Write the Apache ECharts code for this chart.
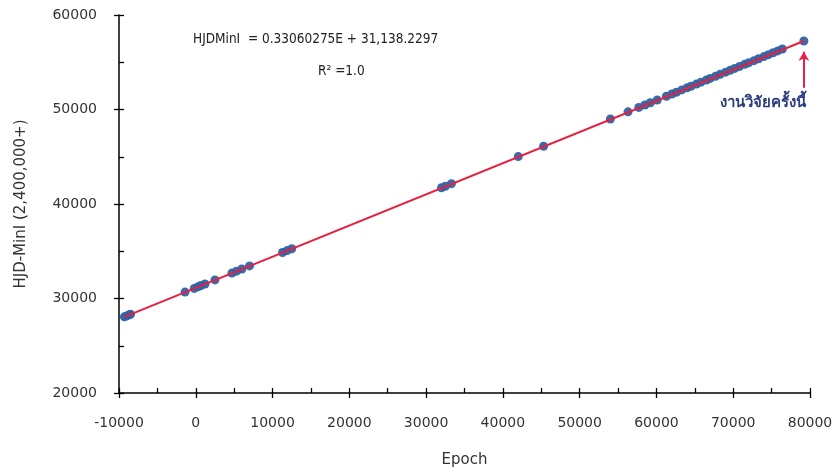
<!DOCTYPE html>
<html>
<head>
<meta charset="utf-8">
<script src="https://cdn.jsdelivr.net/npm/echarts@6/dist/echarts.min.js"></script>
<style>html,body{margin:0;padding:0;background:#fff}#c{width:834px;height:471px}</style>
</head>
<body>
<div id="c"></div>
<script>
// Observed minima: epoch E and HJD-MinI (2,400,000+)
const epochs = [-9300,-9000,-8700,-8500,-1400,-200,300,700,1200,2500,4700,5300,6000,7000,11300,11900,12500,32000,32500,33300,42000,45300,54000,56300,57700,58500,59200,60100,61300,62000,62600,63300,64000,64500,65200,65800,66500,67000,67700,68300,69000,69600,70200,70800,71500,72000,72700,73300,74000,74600,75200,75800,76400,79200];
const hjd = [28060,28160,28260,28330,30680,31070,31240,31370,31540,31970,32690,32890,33120,33450,34870,35070,35270,41720,41880,42150,45020,46110,48990,49750,50220,50480,50710,51010,51400,51640,51830,52070,52300,52460,52690,52890,53120,53290,53520,53720,53950,54150,54350,54540,54780,54940,55170,55370,55600,55800,56000,56200,56400,57250];
// Fitted line endpoints (HJDMinI = 0.33060275E + 31,138.2297)
const fitE = [-9300, 79200];
const fitY = [28060, 57250];
// This-study point annotation arrow (epoch, from/to HJD)
const arrowE = 79200;
const arrowFrom = 52300;
const arrowTo = 56100;
const xTicks = {min: -10000, max: 80000, interval: 10000};
const yTicks = {min: 20000, max: 60000, interval: 10000};

const FONT = "'DejaVu Sans', 'Noto Sans', sans-serif";
const FONTC = "'DejaVu Sans Condensed', 'DejaVu Sans', sans-serif";
const pts = epochs.map((e, i) => [e, hjd[i]]);
const line = fitE.map((e, i) => [e, fitY[i]]);

const chart = echarts.init(document.getElementById('c'));
const G = {left: 119, right: 24, top: 15, bottom: 78, containLabel: false, outerBoundsMode: 'none'};
const tickStyle = {color: '#000', width: 1.3};
chart.setOption({
  animation: false,
  grid: [Object.assign({}, G), Object.assign({}, G)],
  xAxis: [{
    gridIndex: 0, type: 'value', min: xTicks.min, max: xTicks.max, interval: xTicks.interval,
    name: 'Epoch', nameLocation: 'middle', nameGap: 60,
    nameTextStyle: {fontFamily: FONT, fontSize: 15, color: '#333'},
    axisLine: {onZero: false, lineStyle: {color: '#000', width: 1.5}},
    axisTick: {show: true, inside: false, length: 5, lineStyle: tickStyle},
    axisLabel: {fontFamily: FONT, fontSize: 14, color: '#333', margin: 23, formatter: v => String(v)},
    splitLine: {show: false}
  }, {
    gridIndex: 1, type: 'value', min: xTicks.min, max: xTicks.max, interval: xTicks.interval / 2,
    position: 'bottom',
    axisLine: {show: false, onZero: false},
    axisTick: {show: true, inside: true, length: 5, lineStyle: tickStyle},
    axisLabel: {show: false},
    splitLine: {show: false}
  }],
  yAxis: [{
    gridIndex: 0, type: 'value', min: yTicks.min, max: yTicks.max, interval: yTicks.interval,
    name: 'HJD-MinI (2,400,000+)', nameLocation: 'middle', nameGap: 90,
    nameTextStyle: {fontFamily: FONT, fontSize: 15, color: '#333'},
    axisLine: {show: true, onZero: false, lineStyle: {color: '#000', width: 1.5}},
    axisTick: {show: true, inside: false, length: 5, lineStyle: tickStyle},
    axisLabel: {fontFamily: FONT, fontSize: 14, color: '#333', margin: 22, formatter: v => String(v)},
    splitLine: {show: false}
  }, {
    gridIndex: 1, type: 'value', min: yTicks.min, max: yTicks.max, interval: yTicks.interval / 2,
    position: 'left',
    axisLine: {show: false, onZero: false},
    axisTick: {show: true, inside: true, length: 5, lineStyle: tickStyle},
    axisLabel: {show: false},
    splitLine: {show: false}
  }],
  series: [{
    type: 'scatter', xAxisIndex: 0, yAxisIndex: 0, data: pts, symbolSize: 9,
    itemStyle: {color: '#2f62a3', opacity: 0.95},
    z: 2
  }, {
    type: 'line', xAxisIndex: 0, yAxisIndex: 0, data: line, showSymbol: false, symbol: 'none',
    lineStyle: {color: '#e8203f', width: 2},
    z: 3,
    markLine: {
      silent: true, symbol: ['none', 'arrow'], symbolSize: [8, 9],
      label: {show: false},
      lineStyle: {color: '#e8204a', width: 2, type: 'solid'},
      data: [[{coord: [arrowE, arrowFrom]}, {coord: [arrowE, arrowTo]}]]
    }
  }],
  graphic: [{
    type: 'text', left: 193, top: 32,
    style: {text: 'HJDMinI  = 0.33060275E + 31,138.2297', font: '13.5px ' + FONTC, fill: '#222'}
  }, {
    type: 'text', left: 318, top: 64,
    style: {text: 'R² =1.0', font: '13.5px ' + FONTC, fill: '#222'}
  }, {
    type: 'text', left: 720, top: 96,
    style: {text: 'งานวิจัยครั้งนี้', font: 'bold 15px ' + FONT, fill: '#2b3c7e'}
  }]
});
</script>
</body>
</html>
